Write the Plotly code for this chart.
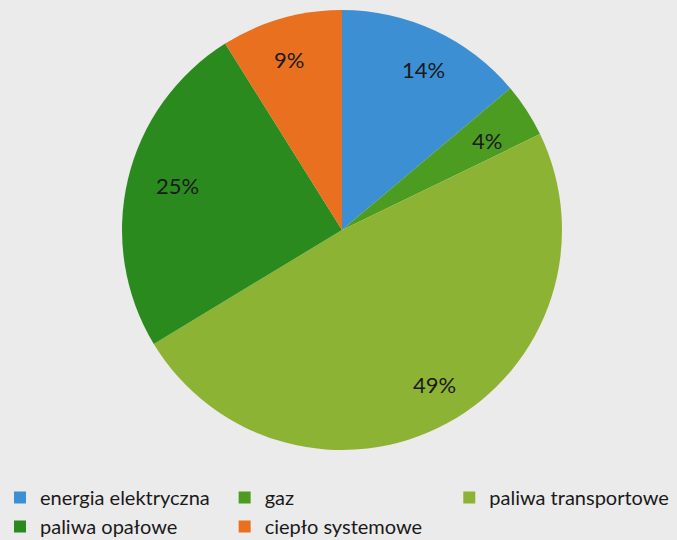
import numpy as np
import plotly.graph_objects as go

labels = ["energia elektryczna", "gaz", "paliwa transportowe", "paliwa opałowe", "ciepło systemowe"]
values = [14, 4, 49, 25, 9]
colors = ["#3d8fd3", "#4c9c22", "#8db334", "#2b8a1e", "#e8701f"]

W, H = 677, 540
cx, cy, R = 342, 230, 220
FONT = "Lato"

fig = go.Figure(go.Pie(
    labels=labels, values=values, sort=False, direction="clockwise", rotation=0,
    marker=dict(colors=colors, line=dict(width=0)),
    textinfo="none", hoverinfo="label+value",
    domain=dict(x=[(cx - R) / W, (cx + R) / W], y=[1 - (cy + R) / H, 1 - (cy - R) / H]),
))

# percent labels near the outer edge of each slice (Excel "inside end" style)
vals = np.array(values, dtype=float)
cum = np.cumsum(vals) / vals.sum() * 2 * np.pi
mid = cum - vals / vals.sum() * np.pi
rl = 0.88 * R
for v, a in zip(values, mid):
    px = cx + rl * np.sin(a)
    py = cy - rl * np.cos(a)
    fig.add_annotation(x=px / W, y=1 - py / H, xref="paper", yref="paper",
                       text=f"{v}%", showarrow=False,
                       font=dict(family=FONT, size=22, color="#1a1a1a"))

fig.update_layout(
    width=W, height=H,
    margin=dict(l=0, r=0, t=0, b=0, autoexpand=False),
    paper_bgcolor="#ebebeb", plot_bgcolor="#ebebeb",
    showlegend=True,
    legend=dict(orientation="h", x=0, xanchor="left", y=1 - 478 / H, yanchor="top",
                traceorder="normal",
                font=dict(family=FONT, size=20, color="#1a1a1a"),
                bgcolor="rgba(0,0,0,0)", itemclick=False, tracegroupgap=0),
)

fig.write_html("out.html")
